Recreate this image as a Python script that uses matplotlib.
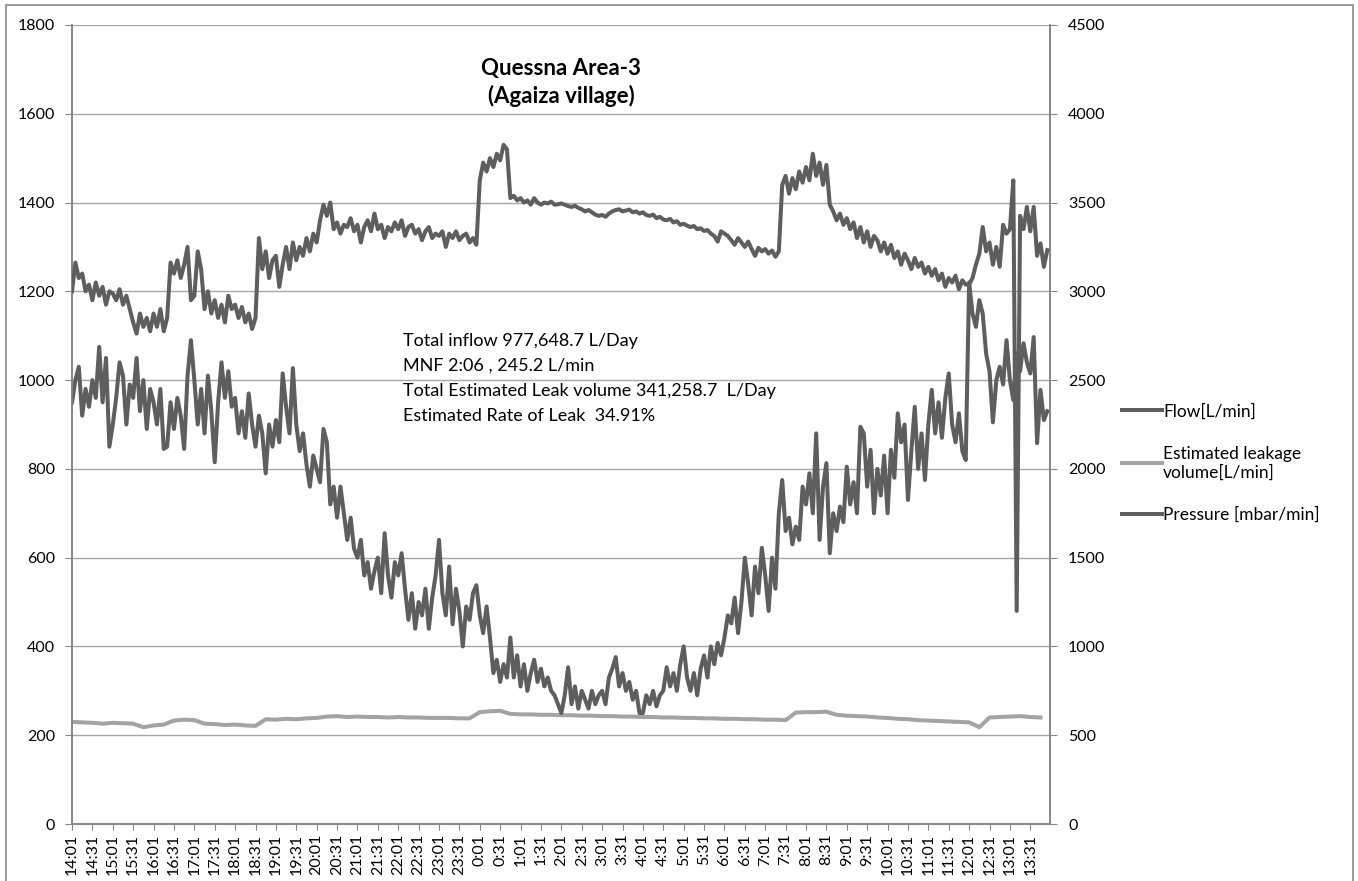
import numpy as np
import matplotlib.pyplot as plt
from matplotlib.patches import Rectangle

plt.rcParams['font.family'] = ['Lato', 'DejaVu Sans']

##########################
### DATA ###

STEP = 5          # minutes between flow / pressure samples
LEAK_STEP = 15    # minutes between leakage samples

TIME_LABELS = ['14:01', '14:31', '15:01', '15:31', '16:01', '16:31', '17:01', '17:31',
               '18:01', '18:31', '19:01', '19:31', '20:01', '20:31', '21:01', '21:31',
               '22:01', '22:31', '23:01', '23:31', '0:01', '0:31', '1:01', '1:31',
               '2:01', '2:31', '3:01', '3:31', '4:01', '4:31', '5:01', '5:31',
               '6:01', '6:31', '7:01', '7:31', '8:01', '8:31', '9:01', '9:31',
               '10:01', '10:31', '11:01', '11:31', '12:01', '12:31', '13:01', '13:31']

# Flow [L/min], one row per hour starting 14:01
FLOW = [
    950, 1000, 1030, 920, 980, 940, 1000, 960, 1075, 950, 1050, 850,
    900, 960, 1040, 1010, 900, 990, 960, 1050, 930, 1000, 890, 980,
    950, 900, 980, 845, 850, 950, 890, 960, 920, 845, 1010, 1090,
    1000, 900, 980, 880, 1010, 930, 815, 950, 1040, 960, 1020, 940,
    960, 880, 930, 870, 970, 900, 850, 920, 880, 790, 900, 850,
    910, 860, 1015, 940, 880, 1027, 900, 840, 880, 810, 760, 830,
    800, 770, 890, 860, 720, 760, 690, 760, 700, 640, 690, 620,
    600, 640, 560, 590, 530, 570, 600, 520, 655, 560, 510, 590,
    560, 610, 530, 460, 520, 440, 500, 470, 530, 440, 510, 560,
    640, 520, 470, 580, 450, 530, 480, 400, 490, 460, 520, 538,
    470, 430, 490, 420, 340, 370, 320, 360, 330, 420, 330, 380,
    310, 360, 300, 340, 370, 320, 350, 310, 330, 300, 290, 270,
    250, 290, 353, 270, 310, 260, 300, 280, 260, 300, 270, 290,
    300, 270, 330, 350, 376, 310, 340, 300, 320, 280, 300, 250,
    250, 290, 270, 300, 265, 290, 300, 353, 310, 340, 300, 360,
    400, 330, 300, 340, 290, 350, 380, 330, 400, 360, 408, 380,
    420, 470, 452, 510, 430, 500, 600, 540, 470, 580, 520, 622,
    560, 480, 600, 530, 700, 775, 660, 690, 630, 670, 640, 760,
    720, 790, 700, 880, 640, 760, 813, 610, 700, 660, 715, 680,
    805, 720, 770, 700, 895, 880, 760, 843, 700, 800, 740, 830,
    700, 843, 780, 925, 860, 900, 730, 840, 940, 800, 880, 775,
    900, 978, 880, 950, 870, 960, 1015, 900, 860, 925, 840, 820,
    1220, 1150, 1120, 1180, 1150, 1060, 1020, 905, 1000, 1030, 990, 1090,
    1000, 955, 1060, 1020, 1083, 1040, 1015, 1097, 858, 978, 910, 930,
]

# Pressure [mbar/min] (right axis), one row per hour starting 14:01
PRESSURE = [
    3000, 3162, 3075, 3100, 3000, 3038, 2950, 3050, 2975, 3025, 2925, 3000,
    2988, 2950, 3012, 2925, 2975, 2900, 2825, 2762, 2875, 2800, 2850, 2775,
    2875, 2800, 2900, 2775, 2850, 3162, 3100, 3175, 3075, 3150, 3250, 2950,
    2975, 3225, 3125, 2900, 3000, 2875, 2950, 2850, 2925, 2825, 2975, 2900,
    2925, 2850, 2912, 2825, 2875, 2788, 2850, 3300, 3125, 3225, 3075, 3175,
    3200, 3025, 3150, 3250, 3125, 3275, 3175, 3250, 3200, 3300, 3225, 3325,
    3275, 3400, 3488, 3425, 3500, 3350, 3388, 3325, 3375, 3362, 3412, 3338,
    3375, 3275, 3362, 3400, 3338, 3438, 3350, 3375, 3300, 3362, 3338, 3388,
    3350, 3400, 3312, 3362, 3375, 3325, 3350, 3288, 3338, 3362, 3300, 3325,
    3312, 3338, 3250, 3325, 3300, 3338, 3288, 3312, 3325, 3275, 3300, 3262,
    3625, 3725, 3675, 3750, 3700, 3775, 3738, 3825, 3800, 3525, 3538, 3512,
    3525, 3500, 3512, 3488, 3525, 3500, 3488, 3500, 3495, 3505, 3488, 3490,
    3495, 3488, 3480, 3475, 3482, 3470, 3462, 3450, 3458, 3445, 3432, 3425,
    3430, 3420, 3438, 3450, 3458, 3462, 3450, 3455, 3460, 3445, 3450, 3438,
    3445, 3430, 3425, 3432, 3412, 3420, 3405, 3400, 3408, 3388, 3395, 3375,
    3380, 3370, 3362, 3368, 3350, 3355, 3340, 3345, 3325, 3312, 3280, 3338,
    3325, 3312, 3288, 3262, 3300, 3275, 3250, 3280, 3238, 3200, 3245, 3225,
    3238, 3212, 3230, 3195, 3225, 3600, 3650, 3550, 3638, 3575, 3675, 3612,
    3700, 3625, 3775, 3650, 3725, 3600, 3712, 3488, 3450, 3400, 3438, 3375,
    3412, 3350, 3388, 3300, 3362, 3275, 3338, 3250, 3312, 3288, 3225, 3275,
    3212, 3262, 3188, 3225, 3150, 3212, 3175, 3125, 3188, 3138, 3162, 3100,
    3138, 3088, 3125, 3062, 3100, 3025, 3075, 3050, 3088, 3012, 3062, 3038,
    3038, 3075, 3150, 3212, 3362, 3225, 3275, 3150, 3250, 3138, 3375, 3325,
    3350, 3625, 1200, 3425, 3350, 3475, 3338, 3475, 3200, 3270, 3138, 3232,
]

# Estimated leakage volume [L/min], 4 values per hour starting 14:01
LEAKAGE = [
    230, 229, 228, 226,  228, 227, 226, 218,  222, 224, 233, 235,
    234, 226, 225, 223,  224, 222, 221, 236,  235, 237, 236, 238,
    239, 242, 243, 241,  242, 241, 241, 240,  241, 240, 240, 239,
    239, 239, 238, 238,  252, 254, 255, 248,  247, 247, 246, 246,
    245, 245, 244, 244,  243, 243, 242, 242,  241, 241, 240, 240,
    239, 239, 238, 238,  237, 237, 236, 236,  235, 235, 234, 251,
    252, 252, 253, 246,  244, 243, 242, 240,  239, 237, 236, 234,
    233, 232, 231, 230,  229, 218, 240, 241,  242, 243, 241, 240,
]

NOTE_LINES = ['Total inflow 977,648.7 L/Day',
              'MNF 2:06 , 245.2 L/min',
              'Total Estimated Leak volume 341,258.7  L/Day',
              'Estimated Rate of Leak  34.91%']

##########################
### PLOT CONFIGURATION ###
W, H = 1358, 881
DARK = '#5e5e5e'
LIGHT = '#a3a3a3'
GRID = '#a6a6a6'
AXC = '#868686'
##########################

t = np.arange(len(FLOW)) * STEP
t_leak = np.arange(len(LEAKAGE)) * LEAK_STEP

fig = plt.figure(figsize=(W / 100, H / 100), dpi=100)
ax = fig.add_axes([72 / W, 1 - 824 / H, (1050 - 72) / W, (824 - 25) / H])
ax2 = ax.twinx()

l1, = ax.plot(t, FLOW, color=DARK, lw=2.9, label='Flow[L/min]', zorder=3)
l2, = ax.plot(t_leak, LEAKAGE, color=LIGHT, lw=2.9,
              label='Estimated leakage\nvolume[L/min]', zorder=2)
l3, = ax2.plot(t, PRESSURE, color=DARK, lw=2.9, label='Pressure [mbar/min]', zorder=3)

ax.set_xlim(0, 1439)
ax.set_ylim(0, 1800)
ax2.set_ylim(0, 4500)
ax.set_yticks(np.arange(0, 1801, 200))
ax2.set_yticks(np.arange(0, 4501, 500))
ax.set_xticks(np.arange(len(TIME_LABELS)) * 30)
ax.set_xticklabels(TIME_LABELS, rotation=90)

ax.grid(axis='y', color=GRID, lw=1)
ax.set_axisbelow(True)

for a in (ax, ax2):
    for s in a.spines.values():
        s.set_color(AXC)
        s.set_linewidth(1.2)
    a.spines['top'].set_visible(False)
ax.tick_params(axis='y', colors=AXC, labelcolor='black', labelsize=11.5, length=5, pad=7)
ax2.tick_params(axis='y', colors=AXC, labelcolor='black', labelsize=11.5, length=5, pad=8)
ax.tick_params(axis='x', colors=AXC, labelcolor='black', labelsize=11.5, length=4, pad=3)

# title inside the plot area
ax.text(0.5, 0.928, 'Quessna Area-3\n(Agaiza village)', transform=ax.transAxes,
        ha='center', va='center', fontsize=16, fontweight='bold', linespacing=1.35)

# summary text
for i, line in enumerate(NOTE_LINES):
    ax.text(0.338, 0.6045 - i * 0.0313, line, transform=ax.transAxes,
            ha='left', va='center', fontsize=13)

fig.legend([l1, l2, l3], [l1.get_label(), l2.get_label(), l3.get_label()],
           loc='center left', bbox_to_anchor=(1106 / W, 1 - 463 / H),
           frameon=False, fontsize=12.5, handlelength=2.3, handletextpad=0.1,
           labelspacing=1.5)

# outer chart frame
fig.add_artist(Rectangle((6 / W, -0.02), (1353 - 6) / W, 1.02 - 5 / H,
                         transform=fig.transFigure, fill=False,
                         edgecolor='#8a8a8a', lw=1.2))

fig.savefig('out.png', dpi=100)
